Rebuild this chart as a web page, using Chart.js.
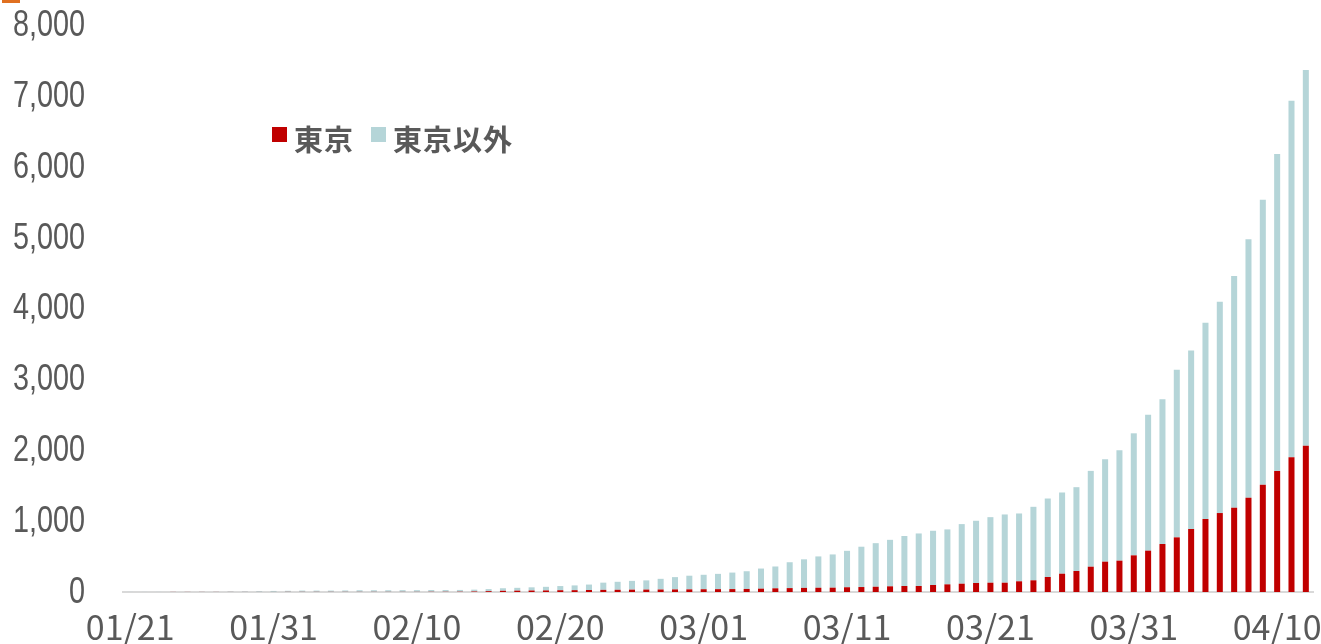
<!DOCTYPE html>
<html lang="ja">
<head>
<meta charset="utf-8">
<script src="https://cdn.jsdelivr.net/npm/chart.js@4.4.1/dist/chart.umd.min.js"></script>
<style>
    html, body { margin: 0; padding: 0; background: #fff; }
    #wrap { position: relative; width: 1321px; height: 644px; }
    #legend { position: absolute; left: 272px; top: 117px; display: flex; align-items: flex-start;
        font-family: "Noto Sans CJK JP", sans-serif; font-weight: bold; font-size: 29px;
        letter-spacing: 1px; color: #595959; }
    #legend .box { width: 15px; height: 15px; margin-top: 10px; margin-right: 7px; }
    #legend .item { display: flex; align-items: flex-start; margin-right: 17px; }
    #mark { position: absolute; left: 2px; top: 0; width: 18px; height: 3px; background: #e07020; }
</style>
</head>
<body>
<div id="wrap">
    <canvas id="covidChart" width="1321" height="644"></canvas>
    <div id="mark"></div>
    <div id="legend">
        <div class="item"><div class="box" style="background:#c00000"></div>東京</div>
        <div class="item"><div class="box" style="background:#b5d5d8"></div>東京以外</div>
    </div>
</div>
<script>
// 01/21 ... 04/12 (2020)
const dates = [];
const monthDays = [[1, 21, 31], [2, 1, 29], [3, 1, 31], [4, 1, 12]];
monthDays.forEach(([m, from, to]) => {
    for (let d = from; d <= to; d++) {
        dates.push(String(m).padStart(2, '0') + '/' + String(d).padStart(2, '0'));
    }
});

// cumulative cases, all Japan
const totalCases = [
    1, 1, 1, 2, 3, 4, 4, 7, 8, 11, 15,
    17, 20, 20, 20, 22, 25, 25, 25, 26, 26, 28, 28, 29, 33, 41, 53, 59, 66, 73, 84,
    93, 105, 132, 144, 157, 164, 186, 210, 230,
    243, 256, 274, 293, 331, 360, 420, 461, 502, 530, 581, 639, 689, 736, 790,
    826, 864, 883, 958, 1005, 1056, 1094, 1108, 1202, 1319, 1404, 1479, 1709, 1873, 2000, 2239,
    2500, 2718, 3136, 3408, 3799, 4094, 4460, 4977, 5535, 6179, 6930, 7366
];

// cumulative cases, Tokyo
const tokyoCases = [
    0, 0, 0, 1, 1, 1, 1, 1, 1, 1, 1,
    2, 2, 2, 2, 2, 2, 2, 2, 2, 2, 3, 3, 4, 7, 12, 17, 19, 21, 22, 25,
    26, 28, 30, 31, 33, 34, 35, 36, 37,
    39, 40, 41, 43, 47, 52, 55, 58, 60, 61, 67, 70, 74, 80, 85,
    85, 99, 108, 117, 127, 131, 131, 151, 165, 212, 258, 296, 357, 428, 442, 517,
    583, 677, 771, 889, 1030, 1114, 1189, 1330, 1513, 1707, 1900, 2064
];

const yTicks = [0, 1000, 2000, 3000, 4000, 5000, 6000, 7000, 8000];

const otherCases = totalCases.map((v, i) => v - tokyoCases[i]);
const textColor = '#595959';

// y labels in a narrow face: no condensed font installed, so squeeze Liberation Sans
const narrowYLabels = {
    id: 'narrowYLabels',
    afterDraw(chart) {
        const scale = chart.scales.y;
        const c = chart.ctx;
        c.save();
        c.fillStyle = textColor;
        c.font = '36px "Liberation Sans", Arial, sans-serif';
        c.textAlign = 'right';
        c.textBaseline = 'middle';
        yTicks.forEach(v => {
            c.save();
            c.translate(85, scale.getPixelForValue(v) + 1);
            c.scale(0.8, 1);
            c.fillText(v.toLocaleString('en-US'), 0, 0);
            c.restore();
        });
        c.restore();
    }
};

const ctx = document.getElementById('covidChart').getContext('2d');
new Chart(ctx, {
    type: 'bar',
    data: {
        labels: dates,
        datasets: [
            {
                label: '東京',
                data: tokyoCases,
                backgroundColor: '#c00000',
                barPercentage: 0.42,
                categoryPercentage: 1.0
            },
            {
                label: '東京以外',
                data: otherCases,
                backgroundColor: '#b5d5d8',
                barPercentage: 0.42,
                categoryPercentage: 1.0
            }
        ]
    },
    options: {
        responsive: false,
        animation: false,
        layout: { padding: { top: 25, left: 10, right: 8, bottom: 0 } },
        plugins: {
            legend: { display: false },
            tooltip: { enabled: false }
        },
        scales: {
            x: {
                stacked: true,
                grid: { display: false, drawTicks: false },
                border: { color: '#d9d9d9', width: 2 },
                afterFit: function (axis) {
                    axis.height = 52;
                },
                ticks: {
                    autoSkip: false,
                    maxRotation: 0,
                    padding: 15,
                    color: textColor,
                    font: { family: '"Noto Sans CJK JP", sans-serif', size: 34 },
                    callback: function (val, index) {
                        return index % 10 === 0 ? dates[index] : '';
                    }
                }
            },
            y: {
                stacked: true,
                min: 0,
                max: 8000,
                grid: { display: false, drawTicks: false },
                border: { display: false },
                afterBuildTicks: function (axis) {
                    axis.ticks = yTicks.map(v => ({ value: v }));
                },
                afterFit: function (axis) {
                    axis.width = 113;
                },
                ticks: { display: false }
            }
        }
    },
    plugins: [narrowYLabels]
});
</script>
</body>
</html>
